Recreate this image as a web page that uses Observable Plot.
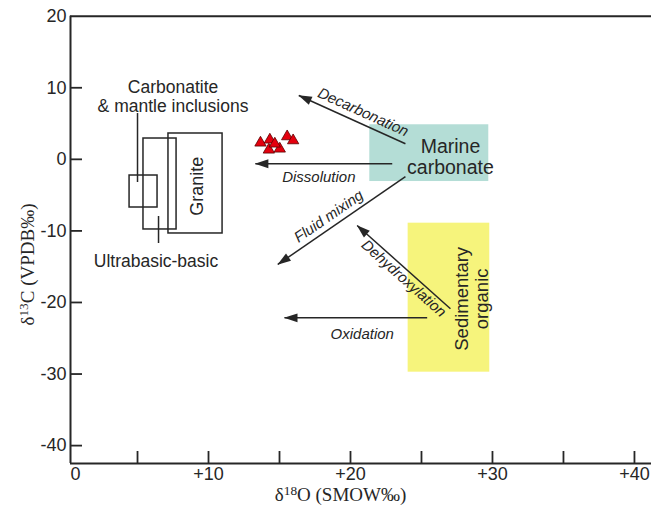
<!DOCTYPE html>
<html><head><meta charset="utf-8">
<script src="https://cdn.jsdelivr.net/npm/d3@7"></script>
<script src="https://cdn.jsdelivr.net/npm/@observablehq/plot@0.6"></script>
<style>html,body{margin:0;padding:0;background:#fff}#chart svg{display:block}</style>
</head><body><div id="chart"></div>
<script>
// ---- data ----
const xTickValues = [10, 20, 30, 40];
const xTickLabels = ["+10", "+20", "+30", "+40"];
const xMinorTicks = [5, 10, 15, 20, 25, 30, 35, 40];
const yTickValues = [-40, -30, -20, -10, 0, 10, 20];
const yTicks = [-40, -30, -20, -10, 0, 10];
const xTitleParts = ["δ", "18", "O (SMOW‰)"];
const yTitleParts = ["δ", "13", "C (VPDB‰)"];
const xTitlePos = 19.3;   // δ18O value at the title's centre
const yTitlePos = -14.7;  // δ13C value at the title's centre

// samples (red triangles): δ18O, δ13C
const samplesX = [13.66, 14.32, 14.25, 15.02, 14.67, 15.54, 15.96];
const samplesY = [2.31, 2.73, 1.33, 1.47, 2.17, 3.19, 2.63];

// source fields (boxes)
const fieldNames = ["Carbonatite & mantle inclusions", "Ultrabasic-basic", "Granite", "Marine carbonate", "Sedimentary organic"];
const fieldX1 = [4.44, 5.42, 7.18, 21.36, 24.06];
const fieldX2 = [6.41, 7.75, 10.99, 29.74, 29.81];
const fieldY1 = [-6.73, -9.80, -10.36, -3.10, -29.74];
const fieldY2 = [-2.26, 2.91, 3.61, 4.83, -8.92];
const fieldLabels = ["Carbonatite\n& mantle inclusions", "Ultrabasic-basic", "Granite", "Marine\ncarbonate", "Sedimentary\norganic"];
const fieldLabelX = [7.5, 6.3, 9.2, 27.04, 28.5];
const fieldLabelY = [8.78, -14.32, -3.77, 0.40, -19.49];

// leader lines from labels to boxes
const leaderX = [5.0, 6.48];
const leaderY1 = [6.4, -7.99];
const leaderY2 = [-3.24, -11.76];

// processes (arrows)
const processNames = ["Decarbonation", "Dissolution", "Fluid mixing", "Dehydroxylation", "Oxidation"];
const processX1 = [23.87, 22.94, 23.87, 27.04, 25.4];
const processY1 = [2.17, -0.62, -2.40, -20.88, -22.14];
const processX2 = [16.36, 13.3, 14.88, 20.47, 15.35];
const processY2 = [8.92, -0.62, -14.69, -9.24, -22.14];
const processLabelX = [20.89, 17.77, 18.47, 23.75, 20.83];
const processLabelY = [6.59, -2.50, -7.96, -16.65, -24.38];

// ---- layout ----
const W = 651, H = 513;
const mL = 70, mR = 0, mT = 15.7, mB = 50;
const xDomain = [0.28, 41.2];
const yDomain = [-42.5, 20];
const frameW = W - mL - mR, frameH = H - mT - mB;
const ink = "#262626";
const sans = "'Liberation Sans', Arial, Helvetica, sans-serif";
const serif = "'Liberation Serif', 'Times New Roman', serif";

const xs = Plot.scale({x: {domain: xDomain, range: [mL, W - mR]}});
const ys = Plot.scale({y: {domain: yDomain, range: [H - mB, mT]}});

const samples = samplesX.map((x, i) => ({x, y: samplesY[i]}));
const fields = fieldNames.map((name, i) => ({name, x1: fieldX1[i], x2: fieldX2[i], y1: fieldY1[i], y2: fieldY2[i],
  label: fieldLabels[i], lx: fieldLabelX[i], ly: fieldLabelY[i]}));
const leaders = leaderX.map((x, i) => ({x, y1: leaderY1[i], y2: leaderY2[i]}));
const processes = processNames.map((name, i) => {
  let dx = xs.apply(processX2[i]) - xs.apply(processX1[i]);
  let dy = ys.apply(processY2[i]) - ys.apply(processY1[i]);
  if (dx < 0) { dx = -dx; dy = -dy; }
  return {name, x1: processX1[i], y1: processY1[i], x2: processX2[i], y2: processY2[i],
    lx: processLabelX[i], ly: processLabelY[i], angle: Math.atan2(dy, dx) * 180 / Math.PI};
});
const xTitle = [{t: xTitleParts.join(""), x: xTitlePos, y: yDomain[0]}];
const yTitle = [{t: yTitleParts.join(""), x: xDomain[0], y: yTitlePos}];

const head = (color) => {
  const m = d3.create("svg:marker")
    .attr("viewBox", "-14 -5 15 10")
    .attr("markerWidth", 15).attr("markerHeight", 10)
    .attr("markerUnits", "userSpaceOnUse")
    .attr("orient", "auto")
    .attr("refX", 0).attr("refY", 0);
  m.append("path").attr("d", "M-13,-4.4L0.5,0L-13,4.4Z").attr("fill", color).attr("stroke", "none");
  return m.node();
};

const boxes = fields.slice(0, 3);
const colored = fields.slice(3);
const fills = ["#b4ddd6", "#f6f47c"];

const chart = Plot.plot({
  width: W, height: H,
  marginLeft: mL, marginRight: mR, marginTop: mT, marginBottom: mB,
  x: {domain: xDomain},
  y: {domain: yDomain},
  style: {fontFamily: sans, color: ink, background: "#fff"},
  marks: [
    // coloured source fields
    Plot.rect(colored, {x1: "x1", x2: "x2", y1: "y1", y2: "y2", fill: (d) => fills[colored.indexOf(d)]}),
    // open boxes
    Plot.rect(boxes, {x1: "x1", x2: "x2", y1: "y1", y2: "y2", fill: "none", stroke: ink, strokeWidth: 1.5}),
    Plot.ruleX(leaders, {x: "x", y1: "y1", y2: "y2", stroke: ink, strokeWidth: 1.5}),
    // process arrows
    Plot.link(processes, {x1: "x1", y1: "y1", x2: "x2", y2: "y2", stroke: ink, strokeWidth: 1.5, markerEnd: head}),
    Plot.text(processes, {x: "lx", y: "ly", text: "name", rotate: "angle", fontSize: 15, fontStyle: "italic", fill: ink, fontFamily: sans}),
    // field labels
    Plot.text([fields[0]], {x: "lx", y: "ly", text: "label", fontSize: 17.5, lineHeight: 1.1, fill: ink, fontFamily: sans}),
    Plot.text([fields[1]], {x: "lx", y: "ly", text: "label", fontSize: 17.5, fill: ink, fontFamily: sans}),
    Plot.text([fields[2]], {x: "lx", y: "ly", text: "label", fontSize: 18, rotate: -90, fill: ink, fontFamily: sans}),
    Plot.text([fields[3]], {x: "lx", y: "ly", text: "label", fontSize: 19.5, lineHeight: 1.08, fill: ink, fontFamily: sans}),
    Plot.text([fields[4]], {x: "lx", y: "ly", text: "label", fontSize: 18.5, lineHeight: 1.1, rotate: -90, fill: ink, fontFamily: sans}),
    // samples
    Plot.dot(samples, {x: "x", y: "y", symbol: "triangle", r: 4.2, fill: "#e4000e", stroke: "#5a0000", strokeWidth: 0.8}),
    // frame and ticks
    Plot.ruleX(xMinorTicks, {insetTop: frameH - 12, stroke: ink, strokeWidth: 1.8}),
    Plot.ruleY(yTicks, {insetRight: frameW - 12, stroke: ink, strokeWidth: 1.8}),
    Plot.ruleX([xDomain[0]], {stroke: ink, strokeWidth: 2}),
    Plot.ruleY([yDomain[0], yDomain[1]], {stroke: ink, strokeWidth: 2}),
    Plot.axisX({ticks: xTickValues, tickFormat: d => xTickLabels[xTickValues.indexOf(d)], tickSize: 0, tickPadding: 4, fontSize: 18, fontFamily: sans, label: null}),
    Plot.text(["0"], {x: xDomain[0], frameAnchor: "bottom", lineAnchor: "top", dy: 4, dx: 5, fontSize: 18, fill: ink, fontFamily: sans}),
    Plot.axisY({ticks: yTickValues, tickFormat: d => String(d), tickSize: 0, tickPadding: 4, fontSize: 18, fontFamily: sans, label: null}),
    // axis titles
    Plot.text(xTitle, {x: "x", y: "y", text: "t", dy: 31, fontSize: 19, fontFamily: serif, fill: ink}),
    Plot.text(yTitle, {x: "x", y: "y", text: "t", dx: -43, rotate: -90, fontSize: 19, fontFamily: serif, fill: ink})
  ]
});

document.getElementById("chart").appendChild(chart);

function superscript(svg, parts) {
  const full = parts.join("");
  const el = [...svg.querySelectorAll("text")].find(e => e.textContent === full);
  if (!el) return;
  const t = d3.select(el);
  t.text(null);
  t.append("tspan").text(parts[0]);
  t.append("tspan").attr("dy", "-0.45em").attr("font-size", "70%").text(parts[1]);
  t.append("tspan").attr("dy", "0.315em").text(parts[2]);
}
superscript(chart, xTitleParts);
superscript(chart, yTitleParts);
</script>
</body></html>
